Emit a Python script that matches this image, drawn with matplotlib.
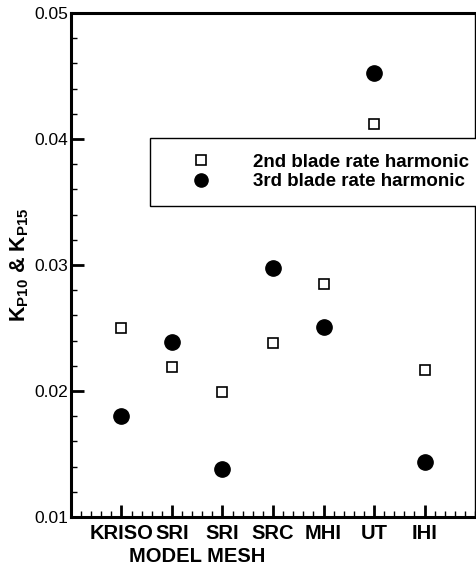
import matplotlib
matplotlib.use("Agg")
import matplotlib.pyplot as plt
from matplotlib.ticker import MultipleLocator
from matplotlib.lines import Line2D

plt.rcParams['font.family'] = ['Liberation Sans', 'DejaVu Sans']
plt.rcParams['mathtext.fontset'] = 'custom'
plt.rcParams['mathtext.rm'] = 'Liberation Sans:bold'
plt.rcParams['mathtext.bf'] = 'Liberation Sans:bold'
plt.rcParams['mathtext.it'] = 'Liberation Sans:bold'

labels = ["KRISO", "SRI", "SRI", "SRC", "MHI", "UT", "IHI"]
positions = [1, 2, 3, 4, 5, 6, 7]
second_harm = [0.0250, 0.0219, 0.0199, 0.0238, 0.0285, 0.0412, 0.0217]
third_harm = [0.0180, 0.0239, 0.0138, 0.0298, 0.0251, 0.0452, 0.0144]

fig = plt.figure(figsize=(4.76, 5.65), dpi=100)
ax = fig.add_axes([0.149, 0.085, 0.849, 0.892])

ax.plot(positions, second_harm, linestyle='none', marker='s', markersize=7.5,
        markerfacecolor='white', markeredgecolor='black', markeredgewidth=1.2)
ax.plot(positions, third_harm, linestyle='none', marker='o', markersize=11,
        markerfacecolor='black', markeredgecolor='black')

ax.set_xlim(0, 8)
ax.set_ylim(0.01, 0.05)
ax.set_xticks(positions)
ax.set_xticklabels(labels, fontsize=14.5, fontweight='bold')
ax.xaxis.set_minor_locator(MultipleLocator(0.2))
ax.yaxis.set_major_locator(MultipleLocator(0.01))
ax.yaxis.set_minor_locator(MultipleLocator(0.002))
ax.tick_params(which='major', direction='in', length=9, width=2)
ax.tick_params(which='minor', direction='in', length=4.5, width=1)
ax.tick_params(axis='y', which='major', labelsize=12.5, pad=2)
ax.tick_params(axis='x', which='major', pad=5)

for side in ['left', 'bottom', 'top']:
    ax.spines[side].set_linewidth(2.2)
ax.spines['right'].set_linewidth(1.0)

ax.set_ylabel(r'$\mathrm{K_{P10}}$ & $\mathrm{K_{P15}}$', fontsize=15.5,
              fontweight='bold', labelpad=2)
ax.text(2.5, -0.0893, "MODEL MESH", transform=ax.get_xaxis_transform(),
        ha='center', va='baseline', fontsize=14.5, fontweight='bold')

handles = [
    Line2D([], [], linestyle='none', marker='s', markersize=6.5,
           markerfacecolor='white', markeredgecolor='black', markeredgewidth=1.2),
    Line2D([], [], linestyle='none', marker='o', markersize=9.5,
           markerfacecolor='black', markeredgecolor='black'),
]
leg = ax.legend(handles, ["2nd blade rate harmonic", "3rd blade rate harmonic"],
                loc='upper left', bbox_to_anchor=(0.195, 0.752), fancybox=False,
                framealpha=1, edgecolor='black', borderpad=0.85,
                handlelength=3.8, handletextpad=0.85, labelspacing=0.12,
                borderaxespad=0, prop={'weight': 'bold', 'size': 13.5})
leg.get_frame().set_linewidth(1.0)

fig.savefig("out.png", dpi=100)
